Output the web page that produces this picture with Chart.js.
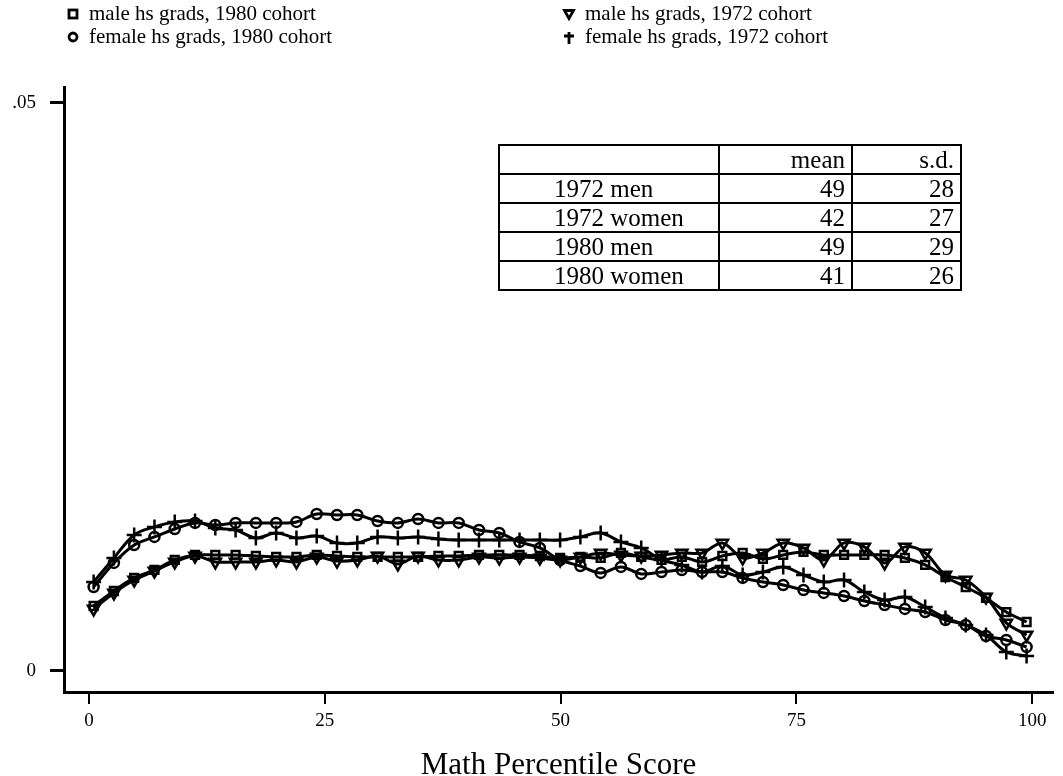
<!DOCTYPE html>
<html lang="en">
  <head>
    <meta charset="UTF-8" />
    <title>Math percentile score densities</title>
    <script src="https://cdn.jsdelivr.net/npm/chart.js@4"></script>
    <style>
      body { margin: 0; background: #fff; }
      #wrap { position: relative; width: 1063px; height: 776px; font-family: 'Liberation Serif', serif; }
      #legend { position: absolute; left: 0; top: 0; width: 1063px; height: 60px; }
      .item { position: absolute; font-size: 21px; line-height: 22px; color: #000; white-space: nowrap; }
      .item svg { position: absolute; left: -23px; top: 5px; }
      #stats { position: absolute; left: 498px; top: 144px; width: 462px; table-layout: fixed;
        border-collapse: collapse; font-size: 25px; line-height: 27px; }
      #stats td { border: 2px solid #000; padding: 0 6px 0 0; text-align: right; height: 27px; }
      #stats td.grp { text-align: left; padding-left: 54px; }
    </style>
  </head>
  <body>
    <div id="wrap">
      <canvas id="myChart" width="1063" height="776"></canvas>
      <div id="legend"></div>
      <table id="stats"></table>
    </div>

    <script>
      // percentile bins (x) and density per bin for each group
      const scores = [0.5, 2.65, 4.8, 6.95, 9.1, 11.25, 13.4, 15.55, 17.7, 19.85, 22.0, 24.15, 26.3, 28.45, 30.6, 32.75,
        34.9, 37.05, 39.2, 41.35, 43.5, 45.65, 47.8, 49.95, 52.1, 54.25, 56.4, 58.55, 60.7, 62.85, 65.0, 67.15,
        69.3, 71.45, 73.6, 75.75, 77.9, 80.05, 82.2, 84.35, 86.5, 88.65, 90.8, 92.95, 95.1, 97.25, 99.4];

      const male80 = [.00572, .00704, .00819, .00889, .00977, .01021, .01021, .01021, .01012, .01004, .01004, .01021,
        .01012, .01004, .01004, .01004, .01004, .01012, .01012, .01021, .01021, .01021, .01012, .00995, .01004, .00995,
        .01039, .01004, .00977, .01004, .0096, .01012, .01039, .00986, .01021, .01048, .01021, .01021, .01021, .01021,
        .00995, .00933, .00827, .00739, .00643, .00519, .00431];
      const female80 = [.00739, .00951, .01109, .0118, .0125, .01303, .01285, .01303, .01303, .01303, .01312, .01382,
        .01373, .01373, .0132, .01303, .01338, .01303, .01303, .01241, .01215, .01136, .01083, .00977, .00924, .00863,
        .00916, .00854, .00871, .00889, .00871, .00871, .00819, .00783, .00757, .00713, .00687, .0066, .00616, .00581,
        .00546, .00519, .00449, .00405, .00308, .00273, .00211];
      const male72 = [.00546, .00687, .00801, .0088, .0096, .01012, .0096, .0096, .0096, .00977, .0096, .01004,
        .00968, .00977, .01012, .00942, .01012, .00977, .00977, .01004, .00995, .01004, .00995, .00977, .01004, .01039,
        .01021, .01012, .01021, .01039, .01039, .01127, .00995, .01039, .01127, .01083, .00977, .01127, .01092, .00951,
        .01092, .01039, .00845, .00801, .00651, .00423, .00317];
      const female72 = [.00783, .00995, .01197, .01268, .01312, .0132, .01259, .01241, .01171, .01215, .01171, .01188,
        .01127, .01127, .0118, .01171, .0118, .01162, .01153, .01153, .01153, .01153, .01153, .01153, .0118, .01215,
        .01136, .01083, .00977, .00933, .00871, .00924, .00845, .00871, .00916, .00845, .00783, .00801, .00695, .00625,
        .00651, .00563, .00467, .00405, .00317, .00167, .00132];

      const seriesNames = ['male hs grads, 1980 cohort', 'female hs grads, 1980 cohort',
        'male hs grads, 1972 cohort', 'female hs grads, 1972 cohort'];

      const xTicks = [0, 25, 50, 75, 100];
      const yTicks = [0, 0.05];
      const yTickLabels = ['0', '.05'];

      // summary table
      const groups = ['1972 men', '1972 women', '1980 men', '1980 women'];
      const means = [49, 42, 49, 41];
      const sds = [28, 27, 29, 26];

      const styles = [
        { pointStyle: 'rect', rot: 0, r: 5.5 },
        { pointStyle: 'circle', rot: 0, r: 5 },
        { pointStyle: 'triangle', rot: 180, r: 6.5 },
        { pointStyle: 'cross', rot: 0, r: 7.5 }
      ];
      const values = [male80, female80, male72, female72];

      const datasets = values.map((vals, i) => ({
        label: seriesNames[i],
        data: vals.map((v, k) => ({ x: scores[k], y: v })),
        borderColor: '#000',
        borderWidth: 3,
        tension: 0.35,
        fill: false,
        pointStyle: styles[i].pointStyle,
        pointRotation: styles[i].rot,
        pointRadius: styles[i].r,
        pointBorderWidth: 2.5,
        pointBorderColor: '#000',
        pointBackgroundColor: 'rgba(0,0,0,0)'
      }));

      const serif = 'Liberation Serif';
      new Chart(document.getElementById('myChart').getContext('2d'), {
        type: 'line',
        data: { datasets },
        options: {
          responsive: false,
          animation: false,
          layout: { padding: { top: 87, right: 5, left: 0, bottom: 0 } },
          plugins: { legend: { display: false }, tooltip: { enabled: false } },
          scales: {
            x: {
              type: 'linear',
              min: -2.64,
              max: 102.2,
              afterBuildTicks: s => { s.ticks = xTicks.map(v => ({ value: v })); },
              afterFit: s => { s.height = 84; },
              grid: { drawOnChartArea: false, drawTicks: true, tickLength: 12, color: '#000', lineWidth: 2 },
              border: { display: true, color: '#000', width: 3 },
              ticks: { color: '#000', font: { family: serif, size: 19 }, padding: 6, maxRotation: 0 },
              title: { display: true, text: 'Math Percentile Score', color: '#000',
                font: { family: serif, size: 31 }, padding: { top: 14, bottom: -8 } }
            },
            y: {
              min: -0.00185,
              max: 0.0514,
              afterBuildTicks: s => { s.ticks = yTicks.map(v => ({ value: v })); },
              afterFit: s => { s.width = 64; },
              grid: { drawOnChartArea: false, drawTicks: true, tickLength: 14, color: '#000', lineWidth: 3 },
              border: { display: true, color: '#000', width: 3 },
              ticks: { color: '#000', font: { family: serif, size: 19 }, padding: 14,
                callback: v => yTickLabels[yTicks.indexOf(v)] }
            }
          }
        }
      });

      // legend, two columns like the original
      function marker(style) {
        const s = '<svg width="14" height="14" viewBox="0 0 14 14" fill="none" stroke="#000" stroke-width="2.8">';
        if (style === 'rect') return s + '<rect x="3" y="3" width="8" height="8"/></svg>';
        if (style === 'circle') return s + '<circle cx="7" cy="7" r="4"/></svg>';
        if (style === 'triangle') return s + '<path d="M2.5 3.5 L11.5 3.5 L7 11.5 Z"/></svg>';
        return s + '<path d="M7 2 L7 14 M2 6 L12 6"/></svg>';
      }
      const legendPos = [[89, 2], [89, 25], [585, 2], [585, 25]];
      document.getElementById('legend').innerHTML = seriesNames.map((n, i) =>
        `<div class="item" style="left:${legendPos[i][0]}px;top:${legendPos[i][1]}px">${marker(styles[i].pointStyle)}${n}</div>`
      ).join('');

      let rows = '<colgroup><col style="width:220px"><col style="width:133px"><col style="width:109px"></colgroup>' +
        '<tr><td></td><td>mean</td><td>s.d.</td></tr>';
      groups.forEach((g, i) => {
        rows += `<tr><td class="grp">${g}</td><td>${means[i]}</td><td>${sds[i]}</td></tr>`;
      });
      document.getElementById('stats').innerHTML = rows;
    </script>
  </body>
</html>
